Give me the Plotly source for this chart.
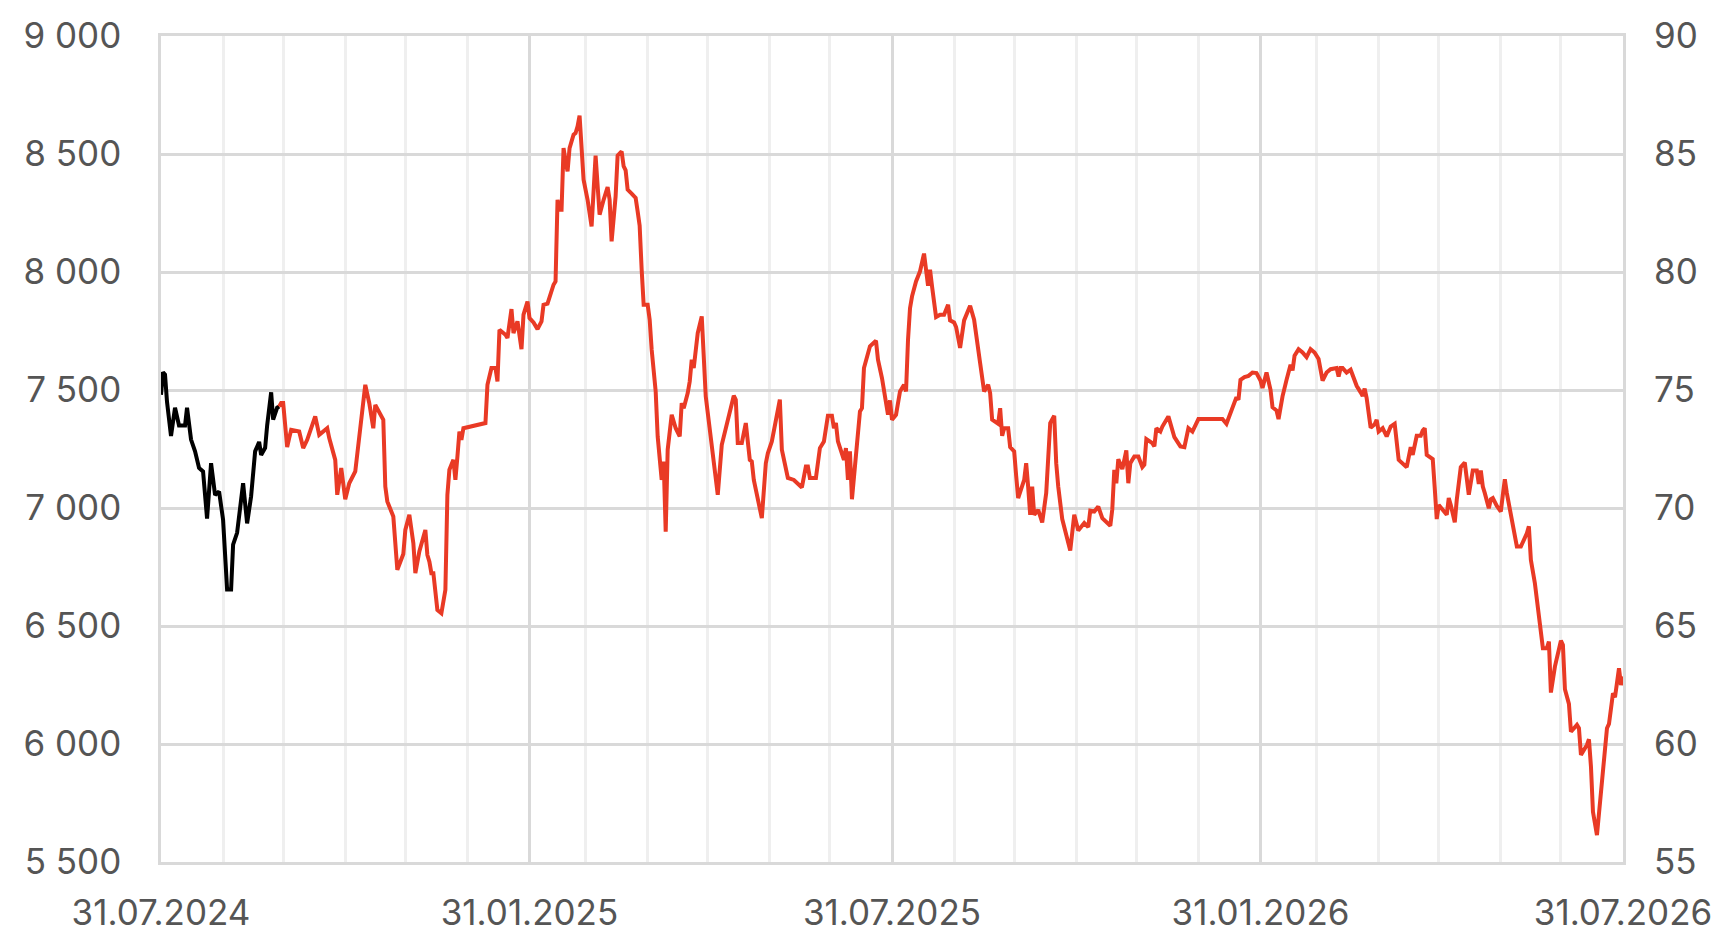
import pandas as pd
import plotly.graph_objects as go

start_date = pd.Timestamp("2024-07-31")
end_date = pd.Timestamp("2026-07-31")

# days since 31.07.2024 and index levels (black = history, red = continuation)
black_days = [0, 1, 2, 3, 5, 7, 9, 12, 13, 15, 17, 19, 21, 23, 25, 27, 29, 31, 33, 35, 36, 38,
              41, 43, 45, 47, 49, 50, 52, 53, 55, 56, 58, 59]
black_values = [7480, 7575, 7565, 7450, 7305, 7425, 7350, 7350, 7425, 7290, 7240, 7170, 7155,
                6955, 7190, 7055, 7070, 6950, 6655, 6655, 6845, 6895, 7105, 6935, 7050, 7240,
                7280, 7225, 7255, 7350, 7490, 7375, 7425, 7430]

red_days = [59, 60, 61, 63, 64, 65, 69, 71, 73, 77, 79, 83, 84, 87, 88, 90, 92, 94, 97, 98, 102,
            104, 106, 107, 111, 112, 113, 116, 118, 121, 122, 124, 126, 127, 128, 129, 132, 133,
            134, 135, 136, 138, 140, 141, 142, 143, 144, 146, 147, 148, 149, 150, 151, 162, 163,
            165, 167, 168, 169, 172, 173, 175, 176, 178, 180, 181, 183, 184, 186, 188, 190, 191,
            193, 196, 197, 198, 199, 200, 201, 202, 203, 204, 206, 207, 208, 209, 210, 211, 213,
            215, 217, 219, 221, 223, 224, 225, 227, 228, 230, 231, 232, 233, 235, 237, 238, 239,
            240, 241, 243, 244, 245, 247, 248, 249, 250, 251, 252, 253, 255, 257, 259, 260, 261,
            263, 264, 265, 266, 268, 270, 272, 276, 278, 280, 283, 286, 287, 288, 290, 292, 294,
            295, 296, 300, 302, 303, 305, 307, 309, 310, 313, 316, 320, 322, 323, 324, 327, 329,
            331, 333, 335, 336, 337, 338, 341, 342, 343, 344, 345, 349, 350, 351, 354, 357, 358,
            360, 361, 363, 364, 365, 367, 369, 371, 372, 373, 374, 375, 377, 379, 381, 383, 384,
            385, 387, 389, 391, 393, 394, 396, 397, 399, 400, 401, 404, 406, 409, 411, 413, 414,
            415, 418, 419, 420, 421, 423, 424, 426, 427, 428, 431, 432, 433, 434, 435, 436, 438,
            440, 442, 444, 446, 447, 448, 450, 454, 456, 458, 461, 463, 464, 466, 468, 470, 472,
            474, 475, 476, 477, 478, 480, 482, 483, 484, 486, 488, 490, 491, 492, 495, 496, 497,
            499, 500, 503, 505, 506, 509, 511, 513, 515, 518, 530, 532, 535, 537, 538, 539, 541,
            543, 545, 547, 549, 550, 552, 554, 555, 557, 558, 560, 562, 564, 565, 566, 568, 570,
            572, 574, 576, 578, 580, 582, 584, 586, 587, 588, 589, 590, 592, 594, 595, 597, 599,
            600, 601, 602, 604, 606, 607, 608, 610, 612, 614, 616, 618, 622, 624, 625, 627, 629,
            630, 631, 632, 635, 636, 637, 638, 642, 643, 644, 646, 647, 649, 651, 653, 655, 657,
            658, 659, 660, 661, 663, 664, 665, 667, 669, 670, 671, 672, 673, 674, 677, 679, 682,
            683, 684, 686, 687, 690, 692, 693, 694, 695, 696, 699, 700, 701, 703, 704, 707, 708,
            709, 712, 713, 714, 715, 717, 721, 722, 723, 724, 725, 726, 727, 728, 729, 730]
red_values = [7430, 7445, 7445, 7258, 7296, 7331, 7324, 7254, 7289, 7388, 7310, 7338, 7296, 7204,
              7056, 7169, 7037, 7105, 7155, 7232, 7522, 7444, 7338, 7437, 7374, 7091, 7028, 6964,
              6738, 6805, 6907, 6971, 6851, 6724, 6766, 6816, 6907, 6801, 6773, 6724, 6724, 6568,
              6554, 6611, 6653, 7056, 7162, 7204, 7119, 7218, 7324, 7289, 7338, 7360, 7522, 7593,
              7593, 7536, 7755, 7734, 7720, 7843, 7741, 7791, 7673, 7819, 7875, 7805, 7786, 7758,
              7791, 7861, 7866, 7946, 7960, 8306, 8264, 8264, 8525, 8469, 8427, 8525, 8582, 8589,
              8617, 8663, 8525, 8391, 8306, 8193, 8493, 8243, 8306, 8360, 8306, 8130, 8321, 8493,
              8511, 8448, 8431, 8349, 8332, 8314, 8257, 8196, 8010, 7861, 7861, 7798, 7671, 7494,
              7303, 7190, 7119, 7197, 6900, 7247, 7395, 7338, 7303, 7444, 7423, 7487, 7536, 7628,
              7593, 7741, 7812, 7473, 7204, 7056, 7268, 7374, 7476, 7459, 7275, 7275, 7360, 7204,
              7197, 7119, 6957, 7190, 7232, 7282, 7374, 7459, 7247, 7127, 7119, 7087, 7176, 7176,
              7127, 7127, 7254, 7282, 7391, 7391, 7338, 7360, 7282, 7204, 7254, 7119, 7240, 7037,
              7409, 7423, 7593, 7685, 7709, 7628, 7550, 7501, 7395, 7456, 7374, 7395, 7494, 7522,
              7494, 7713, 7847, 7897, 7960, 8003, 8078, 7942, 8010, 7939, 7809, 7819, 7819, 7861,
              7795, 7786, 7767, 7678, 7730, 7795, 7857, 7798, 7614, 7494, 7522, 7487, 7374, 7357,
              7423, 7306, 7338, 7338, 7258, 7240, 7136, 7042, 7119, 7190, 7088, 6971, 7091, 6971,
              6992, 6939, 7063, 7360, 7391, 7190, 7091, 6953, 6820, 6971, 6905, 6936, 6919, 6989,
              6985, 7006, 6957, 6939, 6925, 6995, 7162, 7105, 7207, 7165, 7244, 7105, 7190, 7218,
              7218, 7173, 7183, 7292, 7275, 7261, 7338, 7324, 7345, 7388, 7338, 7300, 7261, 7258,
              7338, 7324, 7377, 7377, 7357, 7423, 7470, 7459, 7543, 7555, 7560, 7574, 7572, 7540,
              7508, 7574, 7501, 7427, 7413, 7377, 7473, 7543, 7607, 7583, 7645, 7673, 7659, 7639,
              7673, 7659, 7631, 7540, 7574, 7588, 7593, 7593, 7557, 7593, 7593, 7574, 7586, 7560,
              7518, 7490, 7475, 7506, 7466, 7340, 7355, 7374, 7324, 7338, 7303, 7345, 7357, 7204,
              7173, 7258, 7225, 7306, 7306, 7328, 7338, 7225, 7207, 7084, 6953, 7013, 6971, 7042,
              7013, 6939, 7035, 7173, 7193, 7056, 7159, 7159, 7102, 7159, 7091, 7063, 6999, 7037,
              7042, 7009, 6985, 7056, 7122, 7063, 7021, 6971, 6837, 6837, 6893, 6922, 6780, 6681,
              6611, 6406, 6406, 6434, 6218, 6264, 6328, 6438, 6420, 6232, 6170, 6052, 6081, 6067,
              5954, 5996, 6020, 5904, 5713, 5614, 5961, 6067, 6085, 6137, 6215, 6198, 6255, 6321,
              6250, 6286]

x_tick_dates = ["2024-07-31", "2025-01-31", "2025-07-31", "2026-01-31", "2026-07-31"]
x_tick_labels = ["31.07.2024", "31.01.2025", "31.07.2025", "31.01.2026", "31.07.2026"]
left_ticks = [5500, 6000, 6500, 7000, 7500, 8000, 8500, 9000]
right_ticks = [55, 60, 65, 70, 75, 80, 85, 90]

black_x = start_date + pd.to_timedelta(black_days, unit="D")
red_x = start_date + pd.to_timedelta(red_days, unit="D")

month_ends = [d for d in pd.date_range(start_date, end_date, freq="ME")
              if d.strftime("%Y-%m-%d") not in x_tick_dates]

RED = "#E93A25"
GRID = "#D9D9D9"
MINOR = "#EFEFEF"
TXT = "#555555"
FONT = "Inter"
FS = 35

fig = go.Figure()
# invisible helper so the right-hand scale is drawn
fig.add_trace(go.Scatter(x=red_x, y=[v / 100 for v in red_values], yaxis="y2", mode="lines",
                         line=dict(width=0, color="rgba(0,0,0,0)"), hoverinfo="skip",
                         showlegend=False))
fig.add_trace(go.Scatter(x=black_x, y=black_values, mode="lines",
                         line=dict(color="#000000", width=4), showlegend=False))
fig.add_trace(go.Scatter(x=red_x, y=red_values, mode="lines",
                         line=dict(color=RED, width=4), showlegend=False))

fig.update_layout(
    width=1729, height=946,
    margin=dict(l=161, r=106, t=36, b=84),
    paper_bgcolor="white", plot_bgcolor="white",
    separators=", ",
    font=dict(family=FONT, size=FS, color=TXT),
    xaxis=dict(
        type="date", range=[start_date, end_date],
        tickmode="array", tickvals=x_tick_dates, ticktext=x_tick_labels,
        showgrid=True, gridcolor=GRID, gridwidth=2.5,
        minor=dict(tickmode="array", tickvals=month_ends, showgrid=True,
                   gridcolor=MINOR, gridwidth=2.5, ticks=""),
        showline=True, mirror=True, linecolor=GRID, linewidth=2.5,
        ticks="", ticklabelstandoff=18, zeroline=False,
        tickfont=dict(family=FONT, size=FS, color=TXT),
    ),
    yaxis=dict(
        range=[5500, 9000], tickmode="array", tickvals=left_ticks, tickformat=",d",
        showgrid=True, gridcolor=GRID, gridwidth=2.5,
        showline=True, mirror=True, linecolor=GRID, linewidth=2.5,
        ticks="", ticklabelstandoff=30, zeroline=False,
        tickfont=dict(family=FONT, size=FS, color=TXT),
    ),
    yaxis2=dict(
        overlaying="y", side="right", range=[55, 90], tickmode="array",
        tickvals=right_ticks, showgrid=False, zeroline=False, showline=False,
        ticks="", ticklabelstandoff=30,
        tickfont=dict(family=FONT, size=FS, color=TXT),
    ),
)

fig.write_html("out.html", config={"displayModeBar": False},
               post_script="document.body.style.margin='0';document.body.style.overflow='hidden';")
